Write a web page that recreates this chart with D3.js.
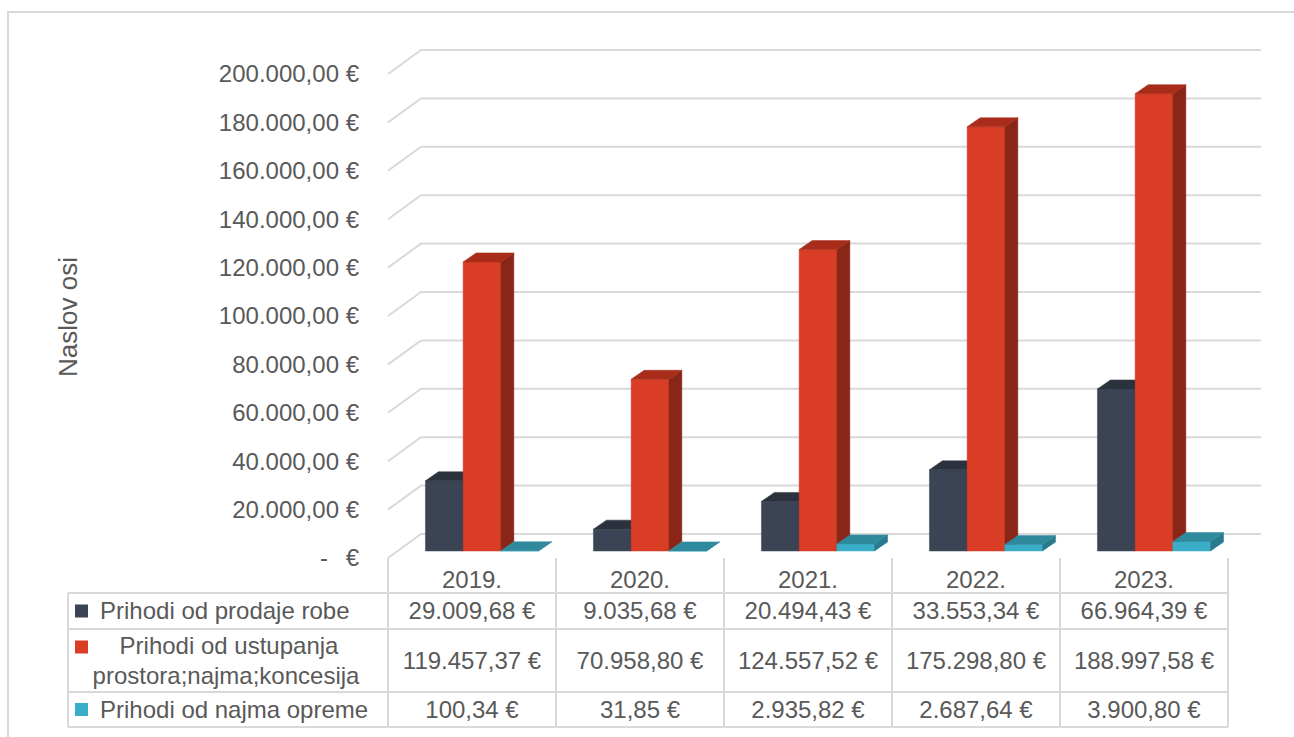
<!DOCTYPE html>
<html>
<head>
<meta charset="utf-8">
<script src="https://cdn.jsdelivr.net/npm/d3@7"></script>
<style>
  body { margin: 0; background: #fff; }
  text { font-family: "Liberation Sans", Arial, sans-serif; fill: #595959; }
</style>
</head>
<body>
<svg id="chart" width="1294" height="737"></svg>
<script>
// data
const years = ["2019.", "2020.", "2021.", "2022.", "2023."];
const seriesNames = ["Prihodi od prodaje robe", "Prihodi od ustupanja prostora;najma;koncesija", "Prihodi od najma opreme"];
const robe = [29009.68, 9035.68, 20494.43, 33553.34, 66964.39];
const prostor = [119457.37, 70958.80, 124557.52, 175298.80, 188997.58];
const oprema = [100.34, 31.85, 2935.82, 2687.64, 3900.80];
const yTicks = [0, 20000, 40000, 60000, 80000, 100000, 120000, 140000, 160000, 180000, 200000];

const series = [robe, prostor, oprema];
const colors = [
  { front: "#3b4455", top: "#2b323d", side: "#262c36" },
  { front: "#d93d26", top: "#a92c1a", side: "#8a2618" },
  { front: "#3aaec9", top: "#2f8a9d", side: "#287a8c" }
];

const svg = d3.select("#chart");

// outer chart frame
svg.append("rect")
  .attr("x", 8).attr("y", 12)
  .attr("width", 1300).attr("height", 740)
  .attr("fill", "#fff")
  .attr("stroke", "#d9d9d9").attr("stroke-width", 2);

// 3d wall depth and bar depth
const wall = { dx: 33, dy: -24 };
const barOff = { dx: 10, dy: -7 };
const barDepth = { dx: 13, dy: -9 };

const x = d3.scaleBand()
  .domain(years)
  .range([388, 1228])
  .paddingInner(0);

const y = d3.scaleLinear()
  .domain([0, 200000])
  .range([558, 74]);

// series band inside each year, centered
const xs = d3.scaleBand()
  .domain(d3.range(series.length))
  .range([0, x.bandwidth()])
  .paddingOuter(0.728)
  .paddingInner(0);

// gridlines on side and back wall
const grid = svg.append("g")
  .attr("fill", "none")
  .attr("stroke", "#d9d9d9")
  .attr("stroke-width", 2);

grid.selectAll("path")
  .data(yTicks)
  .join("path")
  .attr("d", d => {
    const yy = y(d);
    return `M${x.range()[0]},${yy} L${x.range()[0] + wall.dx},${yy + wall.dy} L${x.range()[1] + wall.dx},${yy + wall.dy}`;
  });

// y axis labels
const fmt = v => d3.format(",.2f")(v).replace(/,/g, "#").replace(".", ",").replace(/#/g, ".") + " €";

const yLab = svg.append("g")
  .attr("font-size", "24px");

yLab.selectAll("text.val")
  .data(yTicks)
  .join("text")
  .attr("class", "val")
  .attr("x", 359)
  .attr("y", d => y(d))
  .attr("dy", "0.35em")
  .attr("text-anchor", "end")
  .text(d => d === 0 ? "€" : fmt(d));

yLab.append("text")
  .attr("x", 328)
  .attr("y", y(0))
  .attr("dy", "0.35em")
  .attr("text-anchor", "end")
  .text("-");

svg.append("text")
  .attr("transform", "translate(77,317) rotate(-90)")
  .attr("text-anchor", "middle")
  .attr("font-size", "26px")
  .text("Naslov osi");

// bars
const bars = [];
years.forEach((yr, i) => {
  series.forEach((s, j) => {
    bars.push({ year: yr, s: j, value: s[i] });
  });
});

function barShapes(d) {
  const x0 = x(d.year) + xs(d.s) + barOff.dx;
  const x1 = x0 + xs.bandwidth();
  const yb = y(0) + barOff.dy;
  const yt = y(d.value) + barOff.dy;
  const ddx = barDepth.dx, ddy = barDepth.dy;
  return [
    { part: "front", pts: [[x0, yb], [x1, yb], [x1, yt], [x0, yt]] },
    { part: "side", pts: [[x1, yb], [x1 + ddx, yb + ddy], [x1 + ddx, yt + ddy], [x1, yt]] },
    { part: "top", pts: [[x0, yt], [x1, yt], [x1 + ddx, yt + ddy], [x0 + ddx, yt + ddy]] }
  ];
}

const barG = svg.append("g")
  .selectAll("g")
  .data(bars)
  .join("g");

barG.selectAll("polygon")
  .data(d => barShapes(d).map(p => ({ ...p, s: d.s })))
  .join("polygon")
  .attr("points", p => p.pts.map(q => q.join(",")).join(" "))
  .attr("fill", p => colors[p.s][p.part])
  .attr("stroke", p => colors[p.s][p.part])
  .attr("stroke-width", 0.5);

// data table
const table = svg.append("g")
  .attr("stroke", "#d9d9d9")
  .attr("stroke-width", 2)
  .attr("fill", "none");

const rowLines = [593, 629, 692, 727];
const tableLeft = 68;

table.selectAll("line.h")
  .data(rowLines)
  .join("line")
  .attr("class", "h")
  .attr("x1", tableLeft).attr("x2", x.range()[1])
  .attr("y1", d => d).attr("y2", d => d);

const colEdges = years.map(yr => x(yr)).concat([x.range()[1]]);
table.selectAll("line.v")
  .data(colEdges)
  .join("line")
  .attr("class", "v")
  .attr("x1", d => d).attr("x2", d => d)
  .attr("y1", y(0)).attr("y2", rowLines[3]);

table.append("line")
  .attr("x1", tableLeft).attr("x2", tableLeft)
  .attr("y1", rowLines[0]).attr("y2", rowLines[3]);

const tfont = "24px";

svg.append("g")
  .selectAll("text")
  .data(years)
  .join("text")
  .attr("x", d => x(d) + x.bandwidth() / 2)
  .attr("y", 580)
  .attr("dy", "0.35em")
  .attr("text-anchor", "middle")
  .attr("font-size", tfont)
  .text(d => d);

const rowMid = [611, 660.5, 709.5];

series.forEach((s, j) => {
  svg.append("g")
    .selectAll("text")
    .data(s)
    .join("text")
    .attr("x", (d, i) => x(years[i]) + x.bandwidth() / 2)
    .attr("y", rowMid[j])
    .attr("dy", "0.35em")
    .attr("text-anchor", "middle")
    .attr("font-size", tfont)
    .text(d => fmt(d));
});

// legend keys + series names
const keyY = [611, 647, 709.5];
svg.append("g")
  .selectAll("rect")
  .data(colors)
  .join("rect")
  .attr("x", 75)
  .attr("y", (d, j) => keyY[j] - 6.5)
  .attr("width", 13).attr("height", 13)
  .attr("fill", d => d.front);

svg.append("text")
  .attr("x", 100).attr("y", rowMid[0]).attr("dy", "0.35em")
  .attr("font-size", tfont)
  .text(seriesNames[0]);

svg.append("text")
  .attr("x", 229).attr("y", 646).attr("dy", "0.35em")
  .attr("text-anchor", "middle")
  .attr("font-size", tfont)
  .text("Prihodi od ustupanja");

svg.append("text")
  .attr("x", 226).attr("y", 676).attr("dy", "0.35em")
  .attr("text-anchor", "middle")
  .attr("font-size", tfont)
  .text("prostora;najma;koncesija");

svg.append("text")
  .attr("x", 100).attr("y", rowMid[2]).attr("dy", "0.35em")
  .attr("font-size", tfont)
  .text(seriesNames[2]);
</script>
</body>
</html>
